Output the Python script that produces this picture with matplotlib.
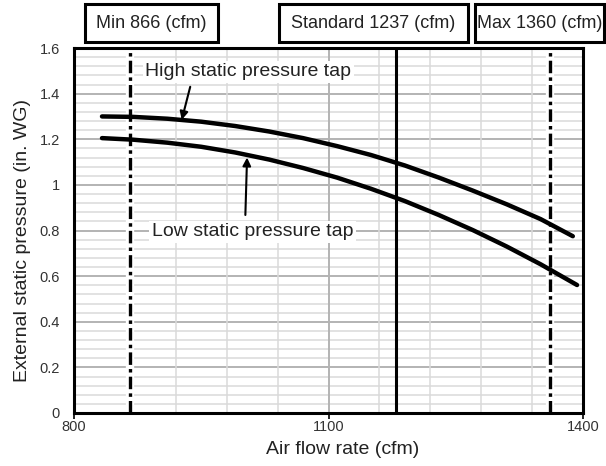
import matplotlib
matplotlib.use("Agg")
import matplotlib.pyplot as plt
from matplotlib.patches import Rectangle

plt.rcParams['font.family'] = ['Liberation Sans', 'DejaVu Sans']
plt.rcParams['lines.scale_dashes'] = False

# 資料
flow_high = [833, 870, 910, 950, 990, 1030, 1070, 1110, 1150, 1190, 1230, 1270, 1310, 1350, 1388]
press_high = [1.300, 1.298, 1.290, 1.277, 1.258, 1.234, 1.205, 1.170, 1.131, 1.085,
              1.032, 0.975, 0.915, 0.850, 0.775]
flow_low = [833, 870, 910, 950, 990, 1030, 1070, 1110, 1150, 1190, 1230, 1270, 1310, 1350, 1393]
press_low = [1.205, 1.198, 1.185, 1.167, 1.142, 1.111, 1.074, 1.032, 0.983, 0.929,
             0.868, 0.802, 0.730, 0.652, 0.561]

min_flow = 866
std_flow = 1180      # drawn position of the standard line in the reference
max_flow = 1361
box_labels = ['Min 866 (cfm)', 'Standard 1237 (cfm)', 'Max 1360 (cfm)']

x_ticks = [800, 1100, 1400]
y_ticks = [0, 0.2, 0.4, 0.6, 0.8, 1.0, 1.2, 1.4, 1.6]
y_ticklabels = ['0', '0.2', '0.4', '0.6', '0.8', '1', '1.2', '1.4', '1.6']

W, H = 606, 466
fig = plt.figure(figsize=(W / 100, H / 100), dpi=100)
ax = fig.add_axes([74 / W, 1 - 413 / H, (583 - 74) / W, (413 - 48) / H])
ax.set_xlim(800, 1400)
ax.set_ylim(0, 1.6)

# 格線
for k in range(1, 40):
    y = k * 0.04
    major = (k % 5 == 0)
    ax.axhline(y, color='#b3b3b3' if major else '#dadada', lw=1.4 if major else 1.1, zorder=1)
for x in range(920, 1400, 60):
    ax.axvline(x, color='#b3b3b3' if x == 1100 else '#dadada', lw=1.4 if x == 1100 else 1.1, zorder=1)

# 垂直參考線
for xv in (min_flow, max_flow):
    ax.axvline(xv, color='white', lw=6, zorder=2)
    ax.axvline(xv, color='black', lw=2.4, dashes=(9, 3, 2.5, 3), zorder=3)
ax.axvline(std_flow, color='black', lw=2.2, zorder=3)

# 曲線
ax.plot(flow_high, press_high, color='black', lw=3.2, solid_capstyle='round',
        solid_joinstyle='round', zorder=4)
ax.plot(flow_low, press_low, color='black', lw=3.2, solid_capstyle='round',
        solid_joinstyle='round', zorder=4)

# 文字及箭頭
ax.text(884, 1.496, 'High static pressure tap', fontsize=14, color='#222222',
        ha='left', va='center', zorder=5,
        bbox=dict(facecolor='white', edgecolor='none', pad=2))
ax.text(892, 0.794, 'Low static pressure tap', fontsize=14, color='#222222',
        ha='left', va='center', zorder=5,
        bbox=dict(facecolor='white', edgecolor='none', pad=2))
ax.annotate('', xy=(927, 1.285), xytext=(937, 1.43),
            arrowprops=dict(arrowstyle='-|>', lw=1.5, color='black', mutation_scale=12,
                            shrinkA=0, shrinkB=0), zorder=6)
ax.annotate('', xy=(1004, 1.12), xytext=(1002, 0.868),
            arrowprops=dict(arrowstyle='-|>', lw=1.5, color='black', mutation_scale=12,
                            shrinkA=0, shrinkB=0), zorder=6)

# 軸
for s in ax.spines.values():
    s.set_linewidth(2.2)
    s.set_color('black')
    s.set_zorder(7)
ax.set_xticks(x_ticks)
ax.set_xticklabels([str(v) for v in x_ticks])
ax.set_yticks(y_ticks)
ax.set_yticklabels(y_ticklabels)
ax.tick_params(axis='x', length=4, width=1.2, pad=1, labelsize=10.5, labelcolor='#333333')
ax.tick_params(axis='y', length=0, pad=10, labelsize=10.5, labelcolor='#333333')

fig.text(343 / W, 1 - 450 / H, 'Air flow rate (cfm)', fontsize=14, color='#222222',
         ha='center', va='center')
fig.text(23 / W, 1 - 240 / H, 'External static pressure (in. WG)', fontsize=14,
         color='#222222', ha='center', va='center', rotation=90)

# 上方標籤框
boxes = [(85, 218), (279, 468), (475, 604)]
for (x0, x1), lab in zip(boxes, box_labels):
    fig.patches.append(Rectangle((x0 / W, 1 - 42 / H), (x1 - x0) / W, 38 / H,
                                 transform=fig.transFigure, facecolor='white',
                                 edgecolor='black', lw=2.2))
    fig.text((x0 + x1) / 2 / W, 1 - 23 / H, lab, fontsize=13, color='#222222',
             ha='center', va='center')

fig.savefig('out.png', dpi=100)
